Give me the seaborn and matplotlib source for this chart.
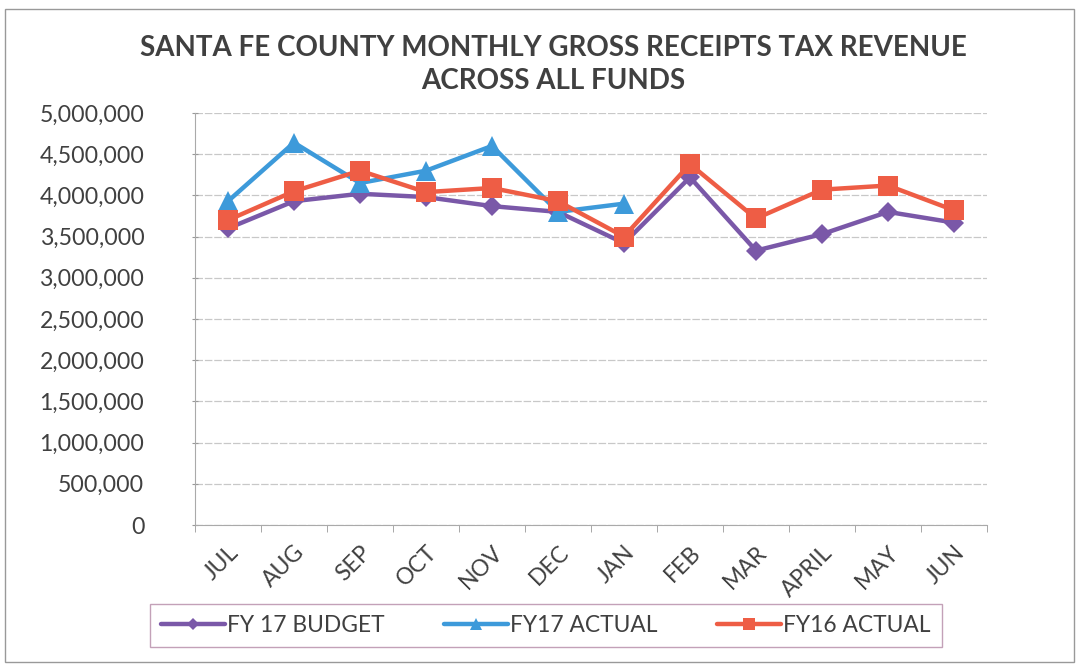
import numpy as np
import pandas as pd
import matplotlib
matplotlib.use("Agg")
import matplotlib.pyplot as plt
from matplotlib.lines import Line2D
from matplotlib.patches import Rectangle
from matplotlib.ticker import FuncFormatter, MultipleLocator
import seaborn as sns

# Chart data
months = ['JUL', 'AUG', 'SEP', 'OCT', 'NOV', 'DEC', 'JAN', 'FEB', 'MAR', 'APRIL', 'MAY', 'JUN']
fy17_budget = [3600000, 3930000, 4020000, 3980000, 3870000, 3800000, 3420000, 4220000, 3330000, 3530000, 3800000, 3670000]
fy17_actual = [3930000, 4640000, 4150000, 4300000, 4600000, 3800000, 3900000, np.nan, np.nan, np.nan, np.nan, np.nan]
fy16_actual = [3700000, 4050000, 4300000, 4040000, 4090000, 3930000, 3500000, 4380000, 3720000, 4070000, 4120000, 3820000]

series_names = ['FY 17 BUDGET', 'FY17 ACTUAL', 'FY16 ACTUAL']
colors = {'FY 17 BUDGET': '#7a58a8', 'FY17 ACTUAL': '#3d9ada', 'FY16 ACTUAL': '#ee5d45'}
markers = {'FY 17 BUDGET': 'D', 'FY17 ACTUAL': '^', 'FY16 ACTUAL': 's'}
msizes = {'FY 17 BUDGET': 10, 'FY17 ACTUAL': 14, 'FY16 ACTUAL': 15}

df = pd.DataFrame({'month': months, 'FY 17 BUDGET': fy17_budget,
                   'FY17 ACTUAL': fy17_actual, 'FY16 ACTUAL': fy16_actual})
df['pos'] = np.arange(len(months))

sns.set_style("white")
plt.rcParams['font.family'] = ['Lato', 'DejaVu Sans']
text_color = '#404040'

fig = plt.figure(figsize=(10.79, 6.64), dpi=100)
ax = fig.add_axes([0.1807, 0.2093, 0.734, 0.6205])

for name in series_names:
    sub = df.dropna(subset=[name])
    sns.lineplot(data=sub, x='pos', y=name, ax=ax, color=colors[name], linewidth=3.2,
                 marker=markers[name], markersize=msizes[name], markeredgewidth=0,
                 label=None, legend=False, zorder=3)

ax.set_xlim(-0.5, len(months) - 0.5)
ax.set_ylim(0, 5000000)
ax.yaxis.set_major_locator(MultipleLocator(500000))
ax.yaxis.set_major_formatter(FuncFormatter(lambda v, p: f'{int(v):,}'))
ax.set_xticks(np.arange(len(months)))
ax.set_xticklabels(months, rotation=45, ha='right', rotation_mode='anchor')
ax.set_xticks(np.arange(-0.5, len(months)), minor=True)
ax.tick_params(axis='x', which='major', length=0, pad=12, labelsize=16.5, labelcolor=text_color)
ax.tick_params(axis='x', which='minor', length=5, color='#999999', direction='out', bottom=True)
ax.tick_params(axis='y', length=5, color='#999999', direction='inout', labelsize=16.7,
               labelcolor=text_color, left=True, pad=34)
for lbl in ax.get_yticklabels():
    lbl.set_horizontalalignment('right')
ax.set_xlabel('')
ax.set_ylabel('')
ax.grid(axis='y', color='#c8c8c8', linewidth=0.9, linestyle=(0, (6, 1.5)))
ax.set_axisbelow(True)
for side in ['top', 'right']:
    ax.spines[side].set_visible(False)
ax.spines['left'].set_color('#aaaaaa')
ax.spines['bottom'].set_color('#aaaaaa')

fig.text(0.5125, 0.927, 'SANTA FE COUNTY MONTHLY GROSS RECEIPTS TAX REVENUE',
         ha='center', va='center', fontsize=20, fontweight='bold', color=text_color)
fig.text(0.5125, 0.878, 'ACROSS ALL FUNDS',
         ha='center', va='center', fontsize=20, fontweight='bold', color=text_color)

handles = [Line2D([0], [0], color=colors[n], linewidth=3.2, marker=markers[n],
                  markersize=msizes[n] * 0.6, markeredgewidth=0) for n in series_names]
leg = fig.legend(handles, series_names, loc='center', bbox_to_anchor=(0.506, 0.058),
                 ncol=3, fontsize=16.4, frameon=True, fancybox=False, handlelength=2.8,
                 handletextpad=0.1, columnspacing=2.6, borderpad=0.5)
leg.get_frame().set_edgecolor('#b58aa6')
leg.get_frame().set_linewidth(1.0)
for t in leg.get_texts():
    t.set_color(text_color)

# outer chart border
fig.patches.append(Rectangle((0.005, 0.003), 0.99, 0.984, transform=fig.transFigure,
                             fill=False, edgecolor='#999999', linewidth=1.0))

fig.savefig('out.png', dpi=100)
